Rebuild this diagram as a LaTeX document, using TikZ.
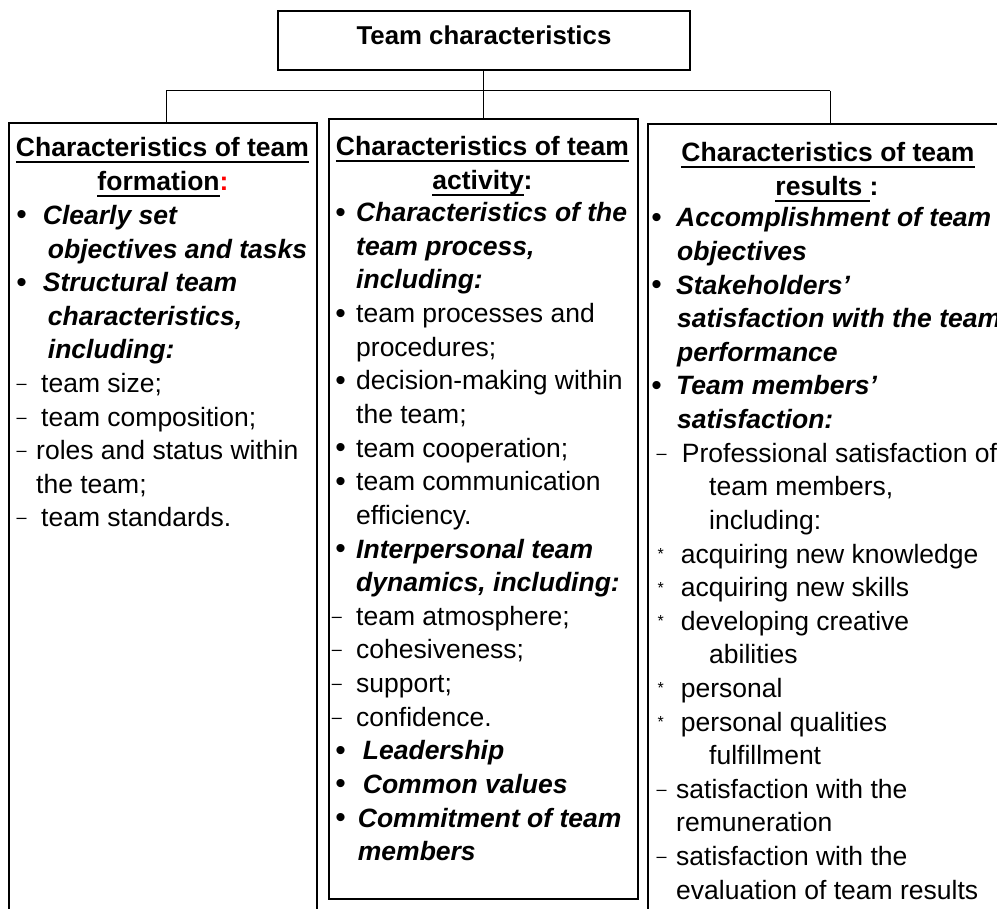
\documentclass[tikz,border=0pt]{standalone}
\usepackage{fontspec}
\setmainfont{Liberation Sans}
\newcommand\ulbox[1]{{\setbox0\hbox{#1}\rlap{\rule[-6.4pt]{\wd0}{2.2pt}}\box0}}
\tikzset{
  box/.style={draw, line width=1.9pt, inner sep=0, anchor=north west},
  conn/.style={line width=1pt},
  txt/.style={inner sep=0, anchor=base west, font=\fontsize{26.5}{30}\selectfont},
  bi/.style={inner sep=0, anchor=base west, font=\fontsize{26.5}{30}\selectfont\bfseries\itshape},
  ttl/.style={inner sep=0, anchor=base, font=\fontsize{26.5}{30}\selectfont\bfseries},
  bul/.style={inner sep=0, anchor=center, yshift=6.5pt, font=\fontsize{30}{30}\selectfont},
  dsh/.style={inner sep=0, anchor=center, yshift=5.5pt, font=\fontsize{18}{20}\selectfont},
  ast/.style={inner sep=0, anchor=center, yshift=9pt, font=\fontsize{16}{18}\selectfont},
}
\begin{document}
\begin{tikzpicture}[x=1pt,y=-1pt]
\useasboundingbox (0,0) rectangle (997,909);
\clip (0,0) rectangle (997,909);

% boxes
\node[box, minimum width=412.3pt, minimum height=59pt] (top) at (276.7,10) {};
\node[inner sep=0, anchor=base, font=\fontsize{25.8}{30}\selectfont\bfseries] (toptxt) at (484,45) {Team characteristics};
\node[box, minimum width=308pt, minimum height=820pt] (left) at (8,122) {};
\node[box, minimum width=309pt, minimum height=780pt] (mid) at (328,118) {};
\node[box, minimum width=366pt, minimum height=820pt] (right) at (647,123) {};

% connectors
\coordinate (hub) at (top.south |- 0,91);
\coordinate (jl) at (166,91);
\coordinate (jr) at (830,91);
\draw[conn] (top.south) -- (hub);
\draw[conn] (jl) -- (jr);
\draw[conn] (jl) -- (jl |- left.north);
\draw[conn] (hub) -- (hub |- mid.north);
\draw[conn] (jr) -- (jr |- right.north);

% ---------- left column ----------
\node[ttl] (Lt1) at (162.5,157) {\ulbox{Characteristics of team}};
\node[ttl] (Lt2) at (163,191) {\ulbox{formation}\textcolor{red}{:}};
\node[bul] (Lb2) at (21.7,224.5) {•};
\node[bi] (L2) at (42.7,224.5) {Clearly set};
\node[bi] (L3) at (47.7,258.1) {objectives and tasks};
\node[bul] (Lb4) at (21.7,291.7) {•};
\node[bi] (L4) at (42.7,291.7) {Structural team};
\node[bi] (L5) at (47.7,325.3) {characteristics,};
\node[bi] (L6) at (47.7,358.9) {including:};
\node[dsh] (Ld7) at (21.7,392.5) {–};
\node[txt] (L7) at (41,392.5) {team size;};
\node[dsh] (Ld8) at (21.7,426.1) {–};
\node[txt] (L8) at (41,426.1) {team composition;};
\node[dsh] (Ld9) at (21.7,459.7) {–};
\node[txt] (L9) at (36,459.7) {roles and status within};
\node[txt] (L10) at (36,493.3) {the team;};
\node[dsh] (Ld11) at (21.7,526.9) {–};
\node[txt] (L11) at (41,526.9) {team standards.};

% ---------- middle column ----------
\node[ttl] (Mt1) at (482.5,156) {\ulbox{Characteristics of team}};
\node[ttl] (Mt2) at (482.5,190) {\ulbox{activity}:};
\node[bul] (Mb2) at (340.5,221.7) {•};
\node[bi] (M2) at (356,221.7) {Characteristics of the};
\node[bi] (M3) at (356,255.3) {team process,};
\node[bi] (M4) at (356,289.0) {including:};
\node[bul] (Mb5) at (340.5,322.6) {•};
\node[txt] (M5) at (356,322.6) {team processes and};
\node[txt] (M6) at (356,356.2) {procedures;};
\node[bul] (Mb7) at (340.5,389.9) {•};
\node[txt] (M7) at (356,389.9) {decision-making within};
\node[txt] (M8) at (356,423.5) {the team;};
\node[bul] (Mb9) at (340.5,457.1) {•};
\node[txt] (M9) at (356,457.1) {team cooperation;};
\node[bul] (Mb10) at (340.5,490.7) {•};
\node[txt] (M10) at (356,490.7) {team communication};
\node[txt] (M11) at (356,524.4) {efficiency.};
\node[bul] (Mb12) at (340.5,558.0) {•};
\node[bi] (M12) at (356,558.0) {Interpersonal team};
\node[bi] (M13) at (356,591.6) {dynamics, including:};
\node[dsh] (Md14) at (337,625.3) {–};
\node[txt] (M14) at (356,625.3) {team atmosphere;};
\node[dsh] (Md15) at (337,658.9) {–};
\node[txt] (M15) at (356,658.9) {cohesiveness;};
\node[dsh] (Md16) at (337,692.5) {–};
\node[txt] (M16) at (356,692.5) {support;};
\node[dsh] (Md17) at (337,726.1) {–};
\node[txt] (M17) at (356,726.1) {confidence.};
\node[bul] (Mb18) at (340.5,759.8) {•};
\node[bi] (M18) at (362.7,759.8) {Leadership};
\node[bul] (Mb19) at (340.5,793.4) {•};
\node[bi] (M19) at (362.7,793.4) {Common values};
\node[bul] (Mb20) at (340.5,827.0) {•};
\node[bi] (M20) at (357.7,827.0) {Commitment of team};
\node[bi] (M21) at (357.7,860.6) {members};

% ---------- right column ----------
\node[ttl] (Rt1) at (828,162) {\ulbox{Characteristics of team}};
\node[ttl] (Rt2) at (827,196) {\ulbox{results\ }:};
\node[bul] (Rb2) at (656.7,227) {•};
\node[bi] (R2) at (676,227) {Accomplishment of team};
\node[bi] (R3) at (677,260.6) {objectives};
\node[bul] (Rb4) at (656.7,294.2) {•};
\node[bi] (R4) at (676,294.2) {Stakeholders’};
\node[bi] (R5) at (677,327.8) {satisfaction with the team};
\node[bi] (R6) at (677,361.4) {performance};
\node[bul] (Rb7) at (656.7,395) {•};
\node[bi] (R7) at (676,395) {Team members’};
\node[bi] (R8) at (677,428.6) {satisfaction:};
\node[dsh] (Rd9) at (661.7,462.2) {–};
\node[txt] (R9) at (681.7,462.2) {Professional satisfaction of};
\node[txt] (R10) at (709,495.8) {team members,};
\node[txt] (R11) at (709,529.4) {including:};
\node[ast] (Ra12) at (660.7,563) {*};
\node[txt] (R12) at (680.7,563) {acquiring new knowledge};
\node[ast] (Ra13) at (660.7,596.6) {*};
\node[txt] (R13) at (680.7,596.6) {acquiring new skills};
\node[ast] (Ra14) at (660.7,630.2) {*};
\node[txt] (R14) at (680.7,630.2) {developing creative};
\node[txt] (R15) at (709,663.8) {abilities};
\node[ast] (Ra16) at (660.7,697.4) {*};
\node[txt] (R16) at (680.7,697.4) {personal};
\node[ast] (Ra17) at (660.7,731) {*};
\node[txt] (R17) at (680.7,731) {personal qualities};
\node[txt] (R18) at (709,764.6) {fulfillment};
\node[dsh] (Rd19) at (661.7,798.2) {–};
\node[txt] (R19) at (676,798.2) {satisfaction with the};
\node[txt] (R20) at (676,831.8) {remuneration};
\node[dsh] (Rd21) at (661.7,865.4) {–};
\node[txt] (R21) at (676,865.4) {satisfaction with the};
\node[txt] (R22) at (676,899) {evaluation of team results};
\end{tikzpicture}
\end{document}
